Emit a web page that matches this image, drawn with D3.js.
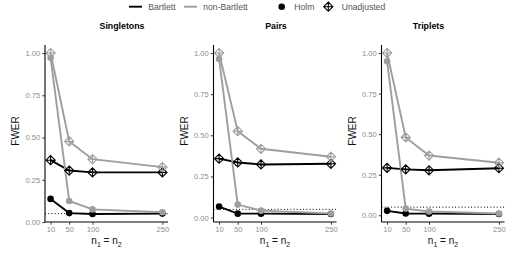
<!DOCTYPE html>
<html lang="en">
<head>
<meta charset="UTF-8">
<title>FWER</title>
<script src="https://cdnjs.cloudflare.com/ajax/libs/d3/7.8.5/d3.min.js"></script>
<style>
  body { margin: 0; background: #fff; }
  svg { font-family: "Liberation Sans", Arial, sans-serif; }
</style>
</head>
<body>
<div id="chart"></div>
<script>
// sample sizes (n1 = n2)
var sizes = [10, 50, 100, 250];
var panels = ["Singletons", "Pairs", "Triplets"];
var yTicks = [0, 0.25, 0.5, 0.75, 1];
var alpha = 0.05;

// FWER per panel
var holmBartlett       = [[0.137, 0.053, 0.048, 0.050], [0.067, 0.024, 0.024, 0.022], [0.027, 0.011, 0.010, 0.008]];
var holmNonBartlett    = [[0.972, 0.125, 0.075, 0.058], [0.964, 0.079, 0.042, 0.025], [0.949, 0.041, 0.023, 0.011]];
var unadjBartlett      = [[0.366, 0.305, 0.294, 0.294], [0.358, 0.335, 0.323, 0.327], [0.292, 0.283, 0.277, 0.290]];
var unadjNonBartlett   = [[1.000, 0.477, 0.372, 0.325], [1.000, 0.525, 0.418, 0.370], [1.000, 0.480, 0.368, 0.324]];

var width = 515, height = 258;
var black = "#000000", grey = "#9e9e9e";

var svg = d3.select("#chart").append("svg")
  .attr("width", width)
  .attr("height", height);

// panel geometry
var panelLeft = [45, 213.5, 381.5];
var panelW = 123;
var panelTop = 45, panelBottom = 222;
var titleX = [122, 276, 428.5];

// diamond with a cross (ggplot shape 9)
function diamondPlus(cx, cy, r) {
  return "M" + (cx - r) + "," + cy + "L" + cx + "," + (cy - r) + "L" + (cx + r) + "," + cy + "L" + cx + "," + (cy + r) + "Z" +
         "M" + (cx - r) + "," + cy + "H" + (cx + r) + "M" + cx + "," + (cy - r) + "V" + (cy + r);
}

panels.forEach(function(name, p) {
  var series = [
    { vals: holmBartlett[p], color: black, shape: "circle" },
    { vals: unadjBartlett[p], color: black, shape: "diamond" },
    { vals: holmNonBartlett[p], color: grey, shape: "circle" },
    { vals: unadjNonBartlett[p], color: grey, shape: "diamond" }
  ];

  var all = d3.merge(series.map(function(s) { return s.vals; })).concat([alpha]);
  var lo = d3.min(all), hi = d3.max(all), pad = (hi - lo) * 0.05;

  var L = panelLeft[p];
  var x = d3.scaleLinear().domain([-2, 262]).range([L, L + panelW]);
  var y = d3.scaleLinear().domain([lo - pad, hi + pad]).range([panelBottom, panelTop]);

  var g = svg.append("g");

  // alpha reference line
  g.append("line")
    .attr("x1", L).attr("x2", L + panelW)
    .attr("y1", y(alpha)).attr("y2", y(alpha))
    .attr("stroke", black)
    .attr("stroke-width", 1)
    .attr("stroke-dasharray", "1,2.2");

  var line = d3.line()
    .x(function(d, i) { return x(sizes[i]); })
    .y(function(d) { return y(d); });

  series.forEach(function(s) {
    g.append("path")
      .attr("d", line(s.vals))
      .attr("fill", "none")
      .attr("stroke", s.color)
      .attr("stroke-width", 1.9);
  });

  series.forEach(function(s) {
    s.vals.forEach(function(v, i) {
      if (s.shape === "circle") {
        g.append("circle")
          .attr("cx", x(sizes[i])).attr("cy", y(v))
          .attr("r", 3.3)
          .attr("fill", s.color);
      } else {
        g.append("path")
          .attr("d", diamondPlus(x(sizes[i]), y(v), 4.6))
          .attr("fill", "none")
          .attr("stroke", s.color)
          .attr("stroke-width", 1.1);
      }
    });
  });

  // axes
  var yAxis = g.append("g")
    .attr("transform", "translate(" + L + ",0)")
    .call(d3.axisLeft(y).tickValues(yTicks).tickFormat(d3.format(".2f")).tickSizeInner(2.7).tickSizeOuter(0).tickPadding(2));
  var xAxis = g.append("g")
    .attr("transform", "translate(0," + panelBottom + ")")
    .call(d3.axisBottom(x).tickValues(sizes).tickSizeInner(2.7).tickSizeOuter(0).tickPadding(1.5));

  [xAxis, yAxis].forEach(function(a) {
    a.select(".domain").attr("stroke", black).attr("stroke-width", 1.1);
    a.selectAll(".tick line").attr("stroke", "#333");
    a.selectAll(".tick text").attr("fill", "#8c8c8c").style("font-size", "7.6px").style("font-family", "Liberation Sans, Arial, sans-serif");
  });
  yAxis.select(".domain").attr("d", "M0," + panelBottom + "V" + panelTop);
  xAxis.select(".domain").attr("d", "M" + L + ",0H" + (L + panelW));

  // axis titles
  g.append("text")
    .attr("transform", "translate(" + (L - 26) + ",131) rotate(-90)")
    .attr("text-anchor", "middle")
    .style("font-size", "10px")
    .attr("fill", "#111")
    .text("FWER");

  var xt = g.append("text")
    .attr("x", L + panelW / 2)
    .attr("y", 244)
    .attr("text-anchor", "middle")
    .style("font-size", "10px")
    .attr("fill", "#111");
  xt.append("tspan").text("n");
  xt.append("tspan").attr("dy", 2.5).style("font-size", "7px").text("1");
  xt.append("tspan").attr("dy", -2.5).text(" = n");
  xt.append("tspan").attr("dy", 2.5).style("font-size", "7px").text("2");

  // panel title
  g.append("text")
    .attr("x", titleX[p])
    .attr("y", 29)
    .attr("text-anchor", "middle")
    .style("font-size", "8.8px")
    .style("font-weight", "bold")
    .attr("fill", "#000")
    .text(name);
});

// legend
var legY = 6.7;
var leg = svg.append("g").style("font-size", "8.6px").attr("fill", "#555");
var legLines = [
  { label: "Bartlett", color: black, x0: 129, tx: 148.3 },
  { label: "non-Bartlett", color: grey, x0: 184, tx: 203.3 }
];
legLines.forEach(function(d) {
  leg.append("line")
    .attr("x1", d.x0).attr("x2", d.x0 + 13)
    .attr("y1", legY).attr("y2", legY)
    .attr("stroke", d.color).attr("stroke-width", 1.9);
  leg.append("text").attr("x", d.tx).attr("y", legY + 3).text(d.label);
});
leg.append("circle").attr("cx", 281.7).attr("cy", legY).attr("r", 3.3).attr("fill", black);
leg.append("text").attr("x", 294.3).attr("y", legY + 3).text("Holm");
leg.append("path").attr("d", diamondPlus(328.3, legY, 4.6)).attr("fill", "none").attr("stroke", black).attr("stroke-width", 1.1);
leg.append("text").attr("x", 341.7).attr("y", legY + 3).text("Unadjusted");
</script>
</body>
</html>
